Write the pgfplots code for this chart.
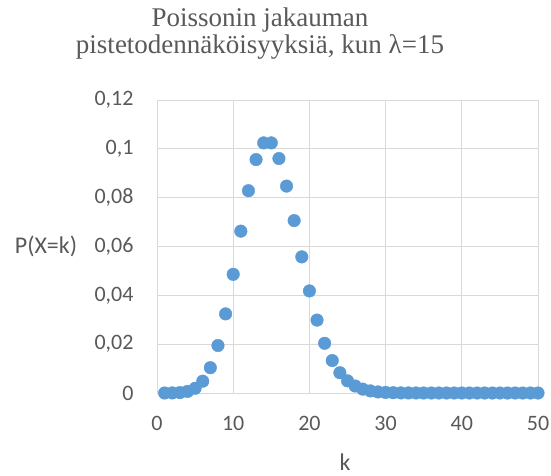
\documentclass[border=0pt]{standalone}
\usepackage{pgfplots}
\pgfplotsset{compat=1.18}
\usepackage{fontspec}
\setmainfont{Carlito}
\newfontfamily\titlefont{Liberation Serif}
\definecolor{ptblue}{HTML}{5B9BD5}
\definecolor{gridgray}{HTML}{D9D9D9}
\definecolor{txtgray}{HTML}{595959}
\begin{document}
\begin{tikzpicture}[x=1pt,y=1pt]
\path[use as bounding box] (0,0) rectangle (551,475);
\begin{axis}[
  at={(157pt,82pt)}, anchor=south west,
  width=381pt, height=293pt, scale only axis,
  xmin=0, xmax=50, ymin=0, ymax=0.12,
  xtick={0,10,20,30,40,50}, ytick={0,0.02,0.04,0.06,0.08,0.1,0.12},
  xticklabels={0,10,20,30,40,50},
  yticklabels={0,{0,02},{0,04},{0,06},{0,08},{0,1},{0,12}},
  grid=major, grid style={gridgray, line width=1pt},
  axis line style={draw=none},
  major tick length=0pt,
  ticklabel style={font=\fontsize{22}{24}\selectfont, text=txtgray},
  xticklabel style={yshift=-20pt},
  yticklabel style={xshift=-20pt},
  clip=false,
]
\addplot[only marks, mark=*, mark size=6.3pt, mark options={fill=ptblue, draw=ptblue}] table {
k p
1 0.0000046
2 0.0000344
3 0.000172
4 0.000645
5 0.001936
6 0.004839
7 0.010370
8 0.019444
9 0.032407
10 0.048611
11 0.066287
12 0.082859
13 0.095607
14 0.102436
15 0.102436
16 0.096034
17 0.084736
18 0.070613
19 0.055747
20 0.041810
21 0.029865
22 0.020362
23 0.013280
24 0.008300
25 0.004980
26 0.002873
27 0.001596
28 0.000855
29 0.000442
30 0.000221
31 0.000107
32 0.000050
33 0.000023
34 0.000010
35 0.000004
36 0.000002
37 0.000001
38 0
39 0
40 0
41 0
42 0
43 0
44 0
45 0
46 0
47 0
48 0
49 0
50 0
};
\end{axis}
\node[text=txtgray, font=\fontsize{24}{26}\selectfont] at (46,229) {P(X=k)};
\node[text=txtgray, font=\fontsize{24}{26}\selectfont] at (345,13) {k};
\node[text=txtgray, font=\titlefont\fontsize{27}{27}\selectfont, align=center] at (260,441) {Poissonin jakauman\\pistetodennäköisyyksiä, kun λ=15};
\end{tikzpicture}
\end{document}
